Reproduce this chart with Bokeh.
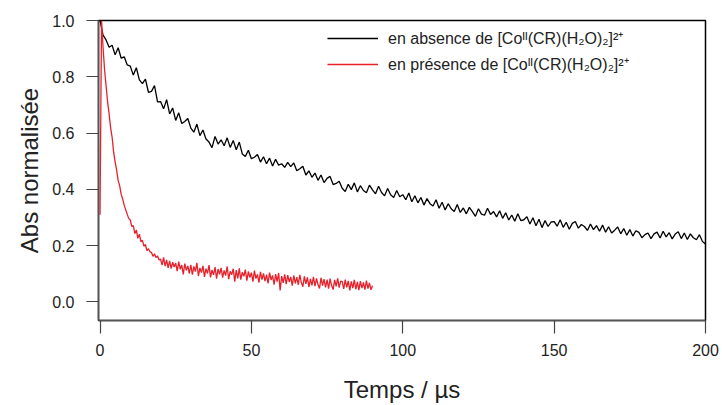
import numpy as np
from bokeh.plotting import figure
from bokeh.models import Range1d, Legend, LegendItem, FixedTicker, CustomJSTickFormatter
from bokeh.embed import file_html
from bokeh.resources import INLINE

# ---- data ----
t_step_black = 1.0
black_vals = [
    1.000, 0.948, 0.931, 0.905, 0.912, 0.878, 0.903, 0.866, 0.871, 0.842,
    0.838, 0.806, 0.832, 0.789, 0.776, 0.792, 0.745, 0.748, 0.769, 0.711,
    0.712, 0.686, 0.719, 0.668, 0.689, 0.645, 0.672, 0.634, 0.641, 0.652,
    0.618, 0.603, 0.632, 0.591, 0.611, 0.579, 0.568, 0.548, 0.588, 0.561,
    0.576, 0.555, 0.583, 0.549, 0.574, 0.541, 0.568, 0.526, 0.517, 0.539,
    0.509, 0.514, 0.524, 0.497, 0.516, 0.491, 0.511, 0.483, 0.507, 0.486,
    0.491, 0.478, 0.496, 0.481, 0.494, 0.466, 0.473, 0.482, 0.451, 0.466,
    0.443, 0.458, 0.432, 0.451, 0.424, 0.439, 0.446, 0.417, 0.421, 0.429,
    0.404, 0.392, 0.418, 0.399, 0.423, 0.391, 0.413, 0.396, 0.388, 0.415,
    0.398, 0.384, 0.411, 0.389, 0.377, 0.403, 0.381, 0.371, 0.396, 0.374,
    0.381, 0.363, 0.387, 0.356, 0.377, 0.352, 0.371, 0.344, 0.367, 0.349,
    0.341, 0.363, 0.333, 0.354, 0.327, 0.349, 0.331, 0.321, 0.346, 0.318,
    0.334, 0.313, 0.336, 0.321, 0.304, 0.331, 0.312, 0.308, 0.333, 0.311,
    0.321, 0.302, 0.324, 0.297, 0.317, 0.291, 0.309, 0.287, 0.313, 0.289,
    0.292, 0.303, 0.277, 0.299, 0.271, 0.294, 0.264, 0.289, 0.268, 0.284,
    0.285, 0.269, 0.292, 0.265, 0.283, 0.258, 0.279, 0.286, 0.262, 0.275,
    0.268, 0.254, 0.277, 0.257, 0.271, 0.251, 0.273, 0.248, 0.267, 0.245,
    0.255, 0.266, 0.242, 0.261, 0.237, 0.257, 0.234, 0.253, 0.247, 0.228,
    0.239, 0.245, 0.225, 0.242, 0.248, 0.227, 0.251, 0.231, 0.246, 0.224,
    0.241, 0.249, 0.225, 0.245, 0.222, 0.242, 0.228, 0.221, 0.239, 0.215,
    0.206,
]

t_step_red = 0.5
red_vals = [
    0.310,
    1.000, 0.905, 0.826, 0.768, 0.712, 0.668, 0.619, 0.585, 0.532,
    0.497, 0.468, 0.431, 0.412, 0.382, 0.365, 0.343, 0.327, 0.311, 0.296,
    0.291, 0.268, 0.271, 0.243, 0.256, 0.226, 0.241, 0.214, 0.219, 0.198,
    0.204, 0.182, 0.189, 0.178, 0.176, 0.162, 0.171, 0.158, 0.163, 0.149,
    0.152, 0.131, 0.158, 0.127, 0.149, 0.121, 0.146, 0.118, 0.141, 0.124,
    0.138, 0.109, 0.143, 0.116, 0.131, 0.098, 0.136, 0.112, 0.128, 0.101,
    0.132, 0.097, 0.126, 0.108, 0.139, 0.092, 0.121, 0.104, 0.128, 0.089,
    0.118, 0.101, 0.131, 0.087, 0.114, 0.096, 0.124, 0.083, 0.117, 0.098,
    0.121, 0.086, 0.112, 0.094, 0.126, 0.081, 0.109, 0.097, 0.118, 0.072,
    0.113, 0.084, 0.119, 0.079, 0.106, 0.091, 0.115, 0.076, 0.108, 0.087,
    0.104, 0.072, 0.111, 0.083, 0.098, 0.069, 0.107, 0.079, 0.101, 0.074,
    0.097, 0.066, 0.104, 0.078, 0.094, 0.061, 0.099, 0.072, 0.103, 0.041,
    0.092, 0.068, 0.098, 0.063, 0.095, 0.071, 0.089, 0.058, 0.094, 0.066,
    0.088, 0.061, 0.096, 0.069, 0.054, 0.091, 0.064, 0.087, 0.053, 0.082,
    0.059, 0.089, 0.056, 0.084, 0.062, 0.048, 0.086, 0.058, 0.081, 0.052,
    0.079, 0.047, 0.083, 0.058, 0.044, 0.078, 0.055, 0.084, 0.051, 0.074,
    0.072, 0.046, 0.079, 0.052, 0.075, 0.041, 0.073, 0.049, 0.078, 0.045,
    0.071, 0.042, 0.074, 0.049, 0.069, 0.044, 0.076, 0.047, 0.068, 0.043,
    0.058,
]

x_ticks = [0, 50, 100, 150, 200]
y_ticks = [0.0, 0.2, 0.4, 0.6, 0.8, 1.0]
label_black = "en absence de [Coᴵᴵ(CR)(H₂O)₂]²⁺"
label_red = "en présence de [Coᴵᴵ(CR)(H₂O)₂]²⁺"
x_title = "Temps / µs"
y_title = "Abs normalisée"

t_black = np.arange(len(black_vals)) * t_step_black
t_red = np.arange(len(red_vals)) * t_step_red

FONT = "Liberation Sans"
TXT = "#222222"

p = figure(width=722, height=405, output_backend="svg", toolbar_location=None,
           x_range=Range1d(-0.5, 200), y_range=Range1d(-0.066, 1.0),
           min_border_left=98, min_border_right=17, min_border_top=20,
           min_border_bottom=78)

p.grid.visible = False
p.outline_line_color = "black"
p.outline_line_width = 1.5
p.background_fill_color = "white"
p.border_fill_color = "white"

r_black = p.line(t_black, black_vals, line_color="black", line_width=1.3)
r_red = p.line(t_red, red_vals, line_color="#e8202a", line_width=1.3)

for ax in (p.xaxis[0], p.yaxis[0]):
    ax.axis_line_color = "#555555"
    ax.axis_line_width = 1.5
    ax.major_tick_line_color = "#444444"
    ax.major_tick_line_width = 1.2
    ax.major_tick_in = 0
    ax.minor_tick_line_color = None
    ax.major_label_text_font = FONT
    ax.major_label_text_font_size = "16px"
    ax.major_label_text_color = TXT
    ax.axis_label_text_font = FONT
    ax.axis_label_text_font_size = "24px"
    ax.axis_label_text_font_style = "normal"
    ax.axis_label_text_color = TXT

p.xaxis.ticker = FixedTicker(ticks=x_ticks)
p.yaxis.ticker = FixedTicker(ticks=y_ticks)
p.yaxis.formatter = CustomJSTickFormatter(code="return tick.toFixed(1);")
p.xaxis.major_tick_out = 13
p.yaxis.major_tick_out = 12
p.xaxis.major_label_standoff = 10
p.yaxis.major_label_standoff = 12
p.xaxis.axis_label = x_title
p.yaxis.axis_label = y_title
p.xaxis.axis_label_standoff = 17
p.yaxis.axis_label_standoff = 6

legend = Legend(items=[LegendItem(label=label_black, renderers=[r_black]),
                       LegendItem(label=label_red, renderers=[r_red])],
                location=(229, 245), padding=0, spacing=4, margin=0,
                label_height=20, glyph_height=20, glyph_width=51,
                label_standoff=10, border_line_color=None,
                background_fill_alpha=0,
                label_text_font=FONT, label_text_font_size="16px",
                label_text_color=TXT)
p.add_layout(legend)

open("out.html", "w").write(file_html(p, INLINE))
